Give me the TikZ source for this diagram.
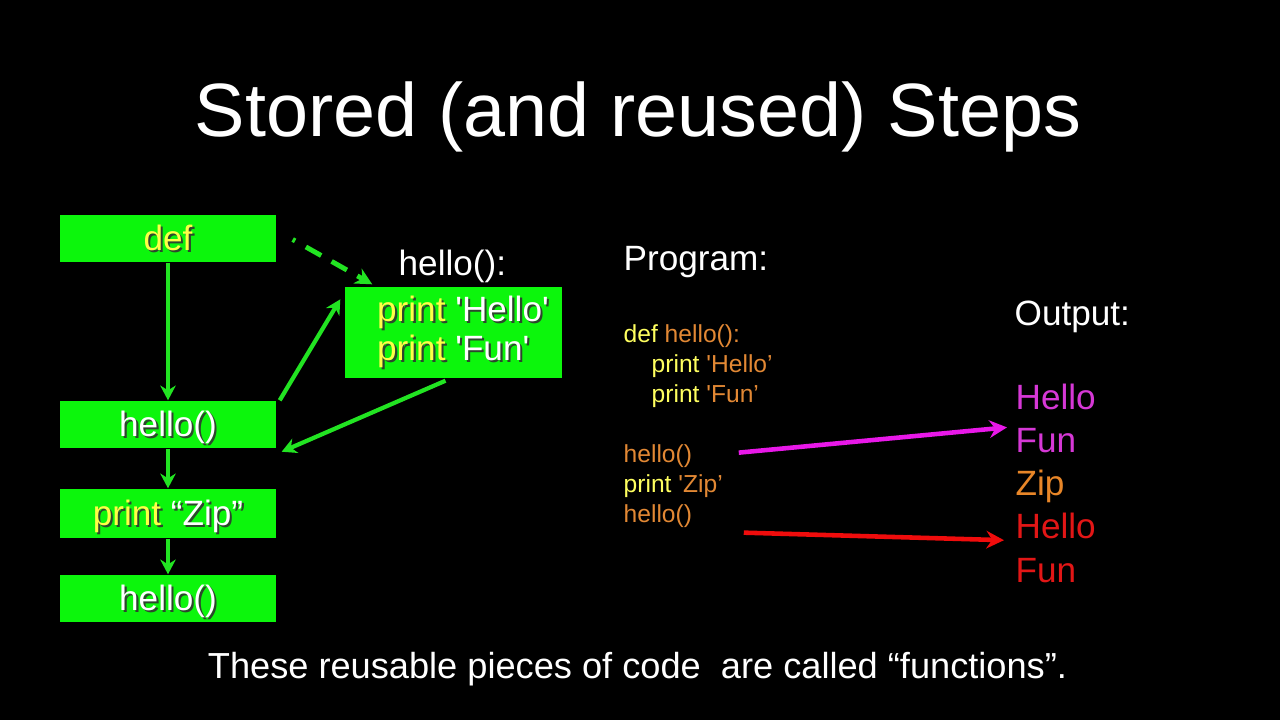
\documentclass[tikz,border=0pt]{standalone}
\usepackage{fontspec}
\setmainfont{Liberation Sans}
\usepackage{xcolor}
\usetikzlibrary{arrows.meta, positioning, calc}

\definecolor{boxgreen}{RGB}{12,246,12}
\definecolor{arrowgreen}{RGB}{34,228,34}
\definecolor{kwyellow}{RGB}{255,255,70}
\definecolor{shadowgray}{RGB}{45,70,45}
\definecolor{codeyellow}{RGB}{255,255,95}
\definecolor{codeorange}{RGB}{226,136,52}
\definecolor{outmagenta}{RGB}{214,56,214}
\definecolor{outorange}{RGB}{232,134,40}
\definecolor{outred}{RGB}{226,22,22}
\definecolor{arrowmagenta}{RGB}{232,24,232}
\definecolor{arrowred}{RGB}{240,12,12}

\newcommand{\kw}[1]{\textcolor{kwyellow}{#1}}
\newcommand{\shadowed}[1]{{\renewcommand{\kw}[1]{##1}\rlap{\hspace{0.6pt}\raisebox{-0.6pt}{\color{shadowgray}#1}}}#1}
\newcommand{\cy}[1]{\textcolor{codeyellow}{#1}}
\newcommand{\co}[1]{\textcolor{codeorange}{#1}}
\newcommand{\sq}{\textquotesingle}

\begin{document}
\begin{tikzpicture}[
        x=0.1mm, y=-0.1mm,
        greenbox/.style={fill=boxgreen, minimum width=21.6mm, minimum height=4.7mm, inner sep=0pt,
            text height=7.5pt, text depth=0.7pt, text=white, font=\fontsize{10}{11.1}\selectfont},
        plaintext/.style={text=white, inner sep=0pt, font=\fontsize{10}{12}\selectfont},
        codetext/.style={inner sep=0pt, font=\fontsize{7}{8.5}\selectfont},
        outtext/.style={inner sep=0pt, font=\fontsize{10}{12.3}\selectfont},
        flowarrow/.style={draw=arrowgreen, line width=1.2pt, -{Stealth[length=4.2pt, width=4.4pt]}},
        linkarrow/.style={draw=arrowgreen, line width=1.4pt, -{Stealth[length=4.8pt, width=4.8pt]},
            dash pattern={on 0.8pt off 3.5pt on 5pt off 3.4pt on 5pt off 3.4pt on 12pt}},
        callarrow/.style={line width=1.3pt, -{Stealth[length=5pt, width=5pt]}}
    ]
        \fill[black] (0,0) rectangle (1280,720);
        \useasboundingbox (0,0) rectangle (1280,720);

        \node[plaintext, anchor=base, font=\fontsize{21.5}{25}\selectfont] (title) at (638,136) {Stored (and reused) Steps};

        % flow of the program
        \node[greenbox] (defbox) at (168,238.5) {\shadowed{\kw{def}}};
        \node[greenbox] (callA) at (168,424.5) {\shadowed{hello()}};
        \node[greenbox, minimum height=4.9mm] (zipbox) at (168,513.5) {\shadowed{\kw{print} “Zip”}};
        \node[greenbox] (callB) at (168,598.5) {\shadowed{hello()}};

        \node[plaintext, anchor=base west] (fname) at (398,275) {hello():};
        \node[greenbox, minimum width=21.7mm, minimum height=9.1mm, text height=, text depth=, align=left] (func) at (453.5,332.5)
            {\hspace*{1.9mm}\shadowed{\kw{print} \sq Hello\sq}\\\hspace*{1.9mm}\shadowed{\kw{print} \sq Fun\sq}};

        \draw[flowarrow] (defbox.south) -- (callA.north);
        \draw[flowarrow] (callA.south) -- (zipbox.north);
        \draw[flowarrow] (zipbox.south) -- (callB.north);
        \draw[linkarrow] ($(defbox.east)+(16,1)$) -- ($(func.north west)+(28,-2)$);
        \draw[flowarrow] ($(callA.north east)+(3,0)$) -- ($(func.north west)+(-4,13)$);
        \draw[flowarrow] ($(func.south)+(-8,2)$) -- ($(callA.south east)+(5,3)$);

        % program text
        \node[plaintext, anchor=base west] (prog) at (623,270) {Program:};
        \node[codetext, anchor=base west] (cdef) at (623,342) {\cy{def} \co{hello():}};
        \node[codetext, anchor=base west] (cpr1) at (651,372) {\cy{print} \co{\sq Hello’}};
        \node[codetext, anchor=base west] (cpr2) at (651,402) {\cy{print} \co{\sq Fun’}};
        \node[codetext, anchor=base west] (call1) at (623,462) {\co{hello()}};
        \node[codetext, anchor=base west] (czip) at (623,492) {\cy{print} \co{\sq Zip’}};
        \node[codetext, anchor=base west] (call2) at (623,522) {\co{hello()}};

        % output
        \node[plaintext, anchor=base west] (outhead) at (1014,325) {Output:};
        \foreach \word/\col [count=\i] in {Hello/outmagenta, Fun/outmagenta, Zip/outorange, Hello/outred, Fun/outred}
            \node[outtext, text=\col, anchor=base west] (out\i) at (1015,{409+43.25*(\i-1)}) {\word};

        \draw[callarrow, draw=arrowmagenta] ($(call1.east)+(46,-3)$) -- ($(out2.north west)+(-8,0)$);
        \draw[callarrow, draw=arrowred] ($(call2.east)+(51,17)$) -- ($(out4.west)+(-11,14)$);

        \node[plaintext, anchor=base, font=\fontsize{10.3}{12}\selectfont] (note) at (637.5,678)
            {These reusable pieces of code\ \ are called “functions”.};
    \end{tikzpicture}
\end{document}
